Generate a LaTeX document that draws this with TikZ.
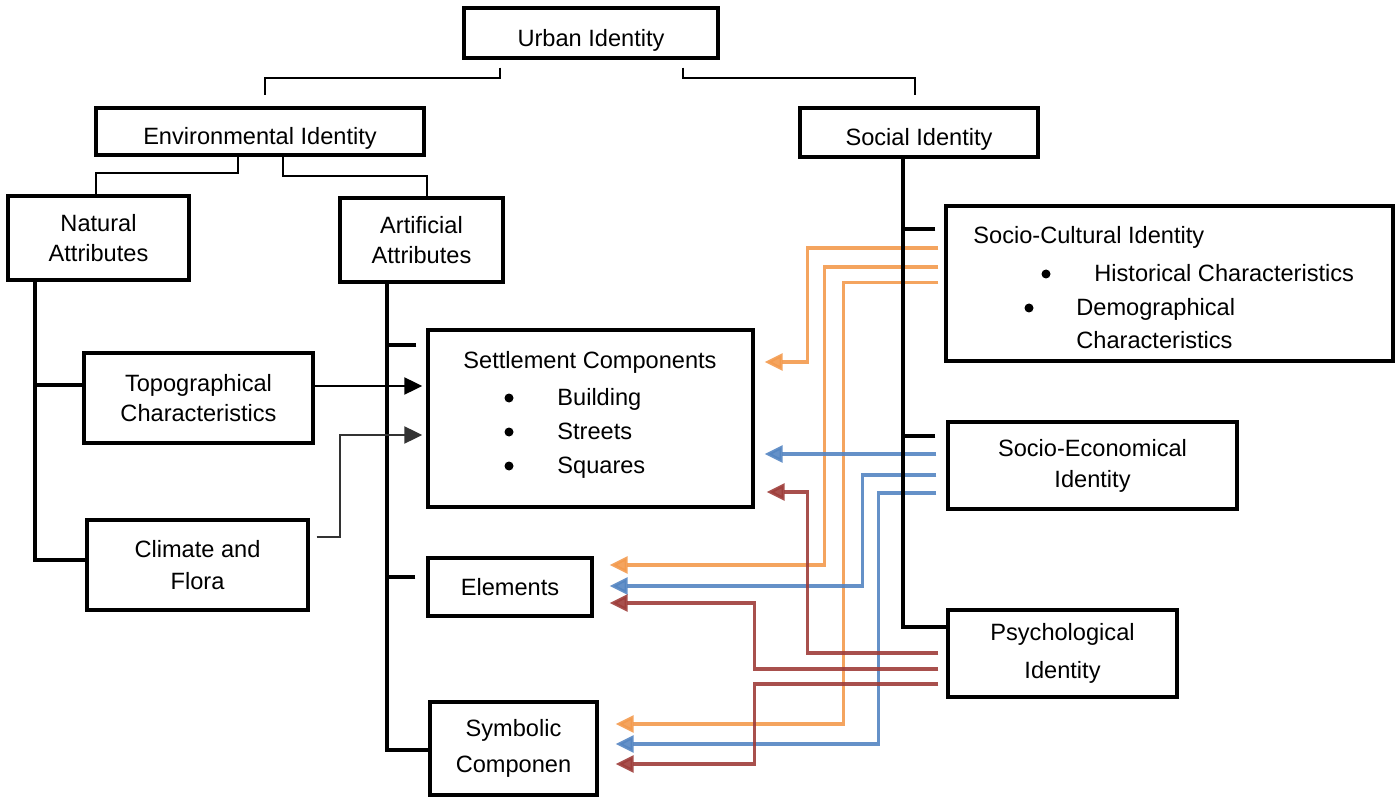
\documentclass[tikz,border=0pt]{standalone}
\usepackage{fontspec}
\setmainfont{Liberation Sans}
\usetikzlibrary{arrows.meta,calc}
\definecolor{orA}{HTML}{F39A4E}
\definecolor{blA}{HTML}{5485C2}
\definecolor{rdA}{HTML}{9E3D3A}
\begin{document}
\begin{tikzpicture}[x=0.5pt,y=-0.5pt,
  font=\fontsize{11.8}{15}\selectfont,
  box/.style={draw, line width=1.7pt, inner sep=0pt, align=center},
  lowtext/.style={text height=13.5pt, text depth=0pt},
  thinc/.style={line width=1pt},
  trunk/.style={line width=1.8pt},
  blk/.style={line width=1.1pt, -{Triangle[length=9pt,width=8.5pt]}},
  colline/.style={line width=1.6pt, opacity=0.9, -{Triangle[length=9pt,width=8.5pt]}},
  orl/.style={colline, draw=orA},
  bll/.style={colline, draw=blA},
  rdl/.style={colline, draw=rdA}]
\useasboundingbox (0,0) rectangle (1398,802);

% boxes
\node[box, lowtext, minimum width=127pt, minimum height=25pt] (urban) at (591,33) {Urban Identity};
\node[box, lowtext, minimum width=164pt, minimum height=23.5pt] (env) at (260,131.5) {Environmental Identity};
\node[box, lowtext, minimum width=119pt, minimum height=24.5pt] (social) at (919,132.5) {Social Identity};
\node[box, minimum width=90.5pt, minimum height=42pt] (natural) at (98.5,238) {Natural\\Attributes};
\node[box, minimum width=81.5pt, minimum height=42pt] (artificial) at (421.5,240) {Artificial\\Attributes};
\node[box, minimum width=114.5pt, minimum height=45pt] (topo) at (198.5,398) {Topographical\\Characteristics};
\node[box, minimum width=110.5pt, minimum height=45pt, font=\fontsize{11.8}{16}\selectfont] (climate) at (197.5,565) {Climate and\\Flora};
\node[box, minimum width=162.5pt, minimum height=88.5pt] (settle) at (590.5,418.5) {};
\node[box, minimum width=82pt, minimum height=29pt] (elements) at (510,587) {Elements};
\node[box, minimum width=83.5pt, minimum height=46.5pt, font=\fontsize{11.8}{18}\selectfont] (symbolic) at (513.5,748.5) {Symbolic\\Componen};
\node[box, minimum width=223.5pt, minimum height=77.5pt] (socult) at (1169.5,283.5) {};
\node[box, minimum width=144.5pt, minimum height=43.5pt, font=\fontsize{11.8}{15.5}\selectfont] (soceco) at (1092.5,465.5) {Socio-Economical\\Identity};
\node[box, minimum width=114.5pt, minimum height=43.5pt, font=\fontsize{11.8}{19}\selectfont] (psych) at (1062.5,653.5) {Psychological\\Identity};

% texts inside settlement box
\node[anchor=base, inner sep=0pt] (settitle) at (590,368) {Settlement Components};
\node[anchor=base west, inner sep=0pt] (sbuild) at (557,406) {Building};
\node[anchor=base west, inner sep=0pt] (sstreet) at (557,439) {Streets};
\node[anchor=base west, inner sep=0pt] (ssquare) at (557,473) {Squares};
\fill (509,398) circle[radius=4.5];
\fill (509,432) circle[radius=4.5];
\fill (509,466) circle[radius=4.5];

% texts inside socio-cultural box
\node[anchor=base west, inner sep=0pt] (sctitle) at (973,244) {Socio-Cultural Identity};
\node[anchor=base west, inner sep=0pt] (schist) at (1094,282) {Historical Characteristics};
\node[anchor=base west, inner sep=0pt] (scdemo) at (1076,316) {Demographical};
\node[anchor=base west, inner sep=0pt] (scchar) at (1076,349) {Characteristics};
\fill (1046,274) circle[radius=4.5];
\fill (1029,308) circle[radius=4.5];

% colored connectors (drawn below the black trunks)
% orange (socio-cultural)
\draw[orl] ($(socult.west)+(-6,-35.5)$) -| ($(settle.east)+(53,-56.5)$) -- ($(settle.east)+(10,-56.5)$);
\draw[orl] ($(socult.west)+(-6,-16.5)$) -| ($(elements.east)+(231,-22)$) -- ($(elements.east)+(16,-22)$);
\draw[orl] ($(socult.west)+(-6,-1)$) -| ($(symbolic.east)+(245,-24.5)$) -- ($(symbolic.east)+(17,-24.5)$);

% blue (socio-economical)
\draw[bll] ($(soceco.west)+(-10,-11.5)$) -- ($(settle.east)+(10,35.5)$);
\draw[bll] ($(soceco.west)+(-10,9.5)$) -| ($(elements.east)+(269,-1)$) -- ($(elements.east)+(16,-1)$);
\draw[bll] ($(soceco.west)+(-10,27.5)$) -| ($(symbolic.east)+(280,-4.5)$) -- ($(symbolic.east)+(17,-4.5)$);

% red (psychological)
\draw[rdl] ($(psych.west)+(-8,-0.5)$) -| ($(settle.east)+(53,73.5)$) -- ($(settle.east)+(12,73.5)$);
\draw[rdl] ($(psych.west)+(-8,15.5)$) -| ($(elements.east)+(161,16)$) -- ($(elements.east)+(16,16)$);
\draw[rdl] ($(psych.west)+(-8,30.5)$) -| ($(symbolic.east)+(156,15.5)$) -- ($(symbolic.east)+(17,15.5)$);

% tree connectors
\draw[thinc] ($(urban.south)+(-91,8)$) |- ($(env.north)+(5,-28)$) -- ($(env.north)+(5,-11)$);
\draw[thinc] ($(urban.south)+(92,8)$) |- ($(social.north)+(-4,-28)$) -- ($(social.north)+(-4,-11)$);
\draw[thinc] ($(env.south)+(-22,0)$) |- ($(natural.north)+(-3,-21)$) -- ($(natural.north)+(-3,0)$);
\draw[thinc] ($(env.south)+(23,0)$) |- ($(artificial.north)+(5.5,-20)$) -- ($(artificial.north)+(5.5,0)$);

% natural trunk
\draw[trunk] ($(natural.south)+(-63.5,0)$) |- ($(climate.west)+(0,-5)$);
\draw[trunk] ($(topo.west)+(0,-13)$) -- ++(-49,0);

% artificial trunk
\draw[trunk] ($(artificial.south)+(-34.5,0)$) |- ($(symbolic.west)+(0,1.5)$);
\draw[trunk] ($(settle.west)+(-10,-73.5)$) -- ++(-31,0);
\draw[trunk] ($(elements.west)+(-11,-10)$) -- ++(-30,0);

% social trunk
\draw[trunk] ($(social.south)+(-16,0)$) |- ($(psych.west)+(0,-26.5)$);
\draw[trunk] ($(socult.west)+(-9,-54.5)$) -- ++(-34,0);
\draw[trunk] ($(soceco.west)+(-11,-29.5)$) -- ++(-34,0);

% black arrows into settlement
\draw[blk] ($(topo.east)+(0,-12)$) -- ($(settle.west)+(-4,-32.5)$);
\draw[blk, draw=black!80] ($(climate.east)+(7,-28)$) -| ($(settle.west)+(-86,16.5)$) -- ($(settle.west)+(-4,16.5)$);
\end{tikzpicture}
\end{document}
